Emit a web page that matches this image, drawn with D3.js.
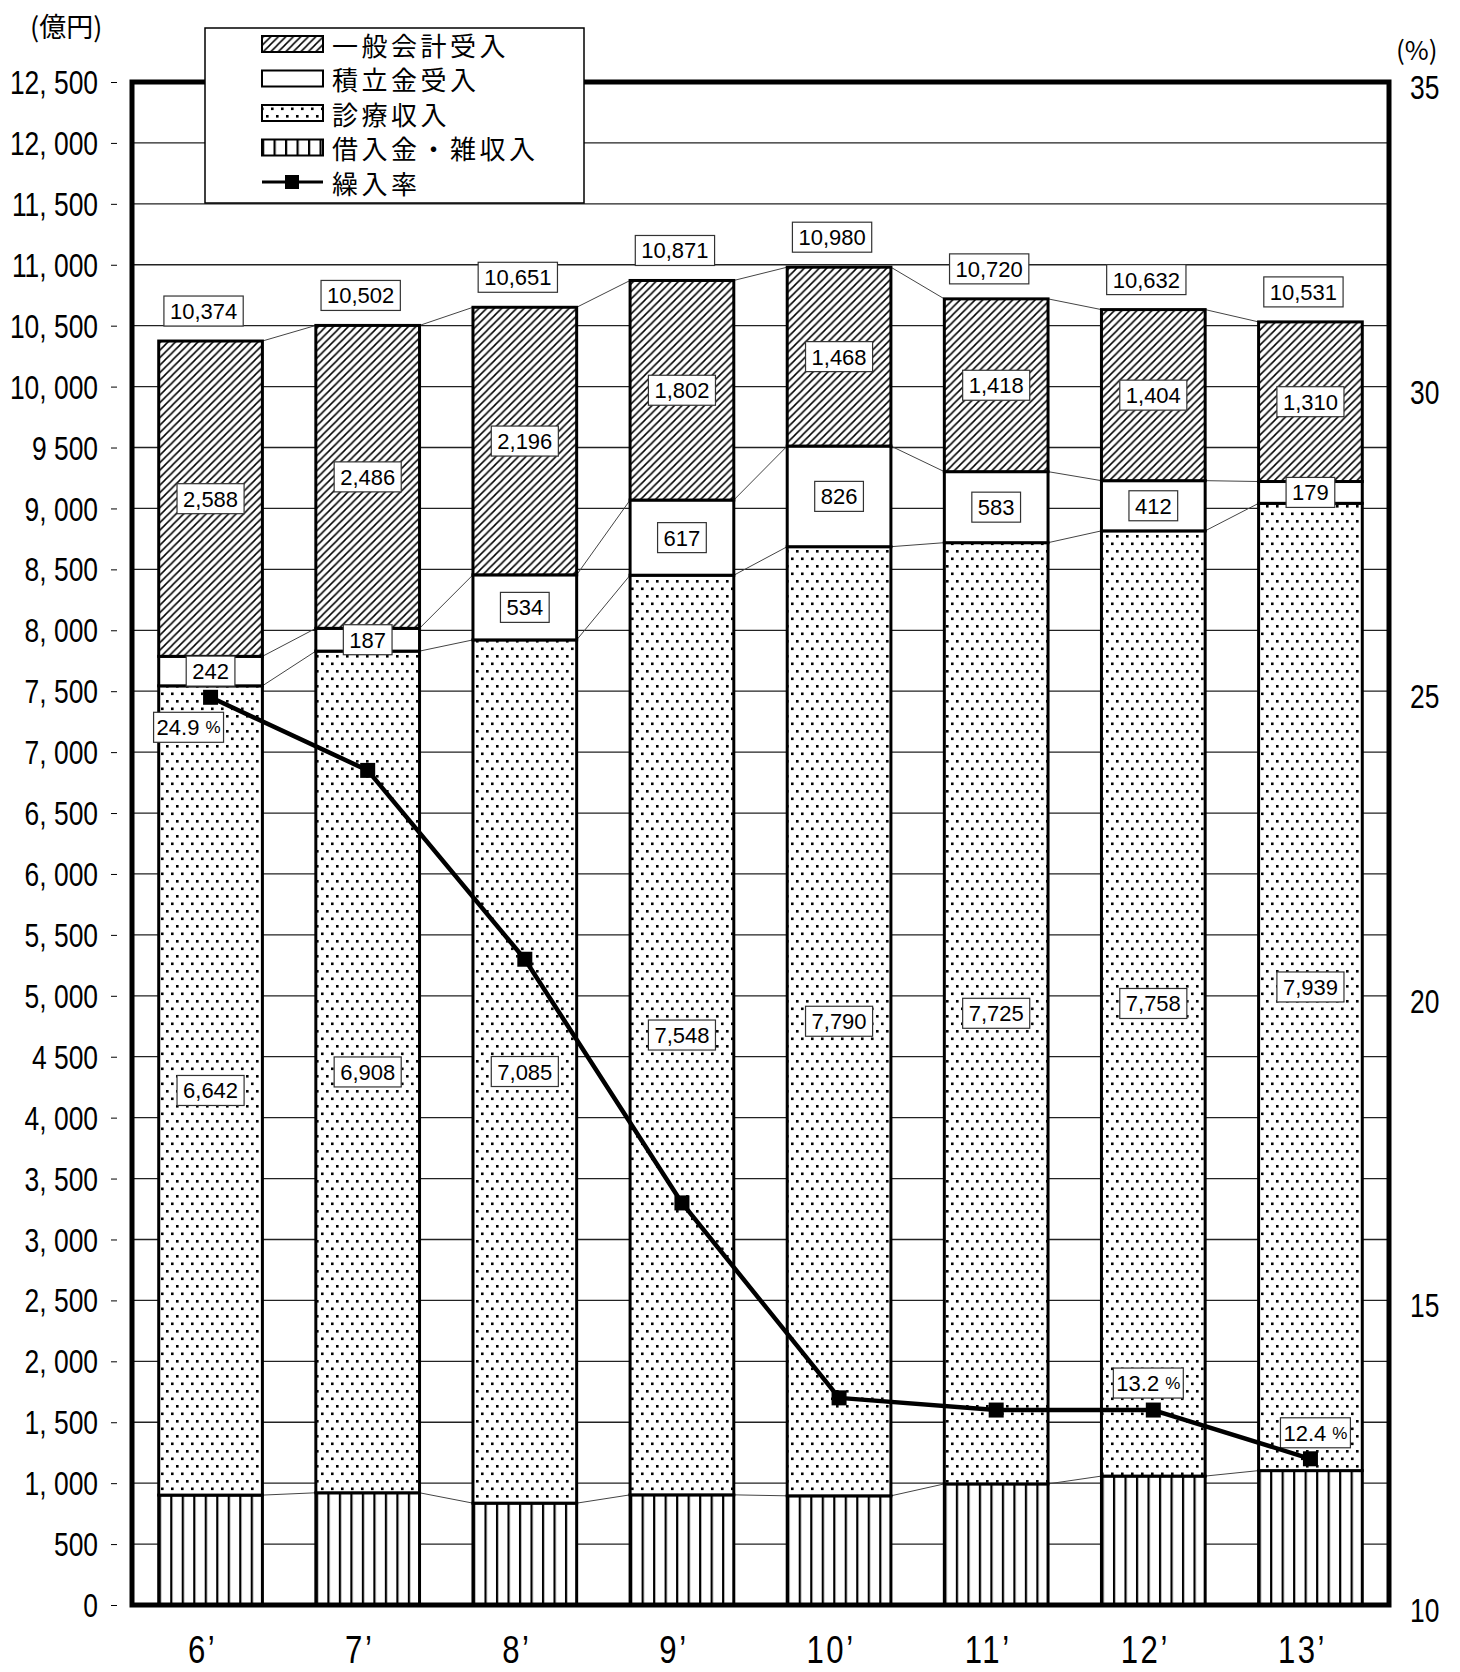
<!DOCTYPE html>
<html><head><meta charset="utf-8">
<script src="https://cdn.jsdelivr.net/npm/d3@7"></script>
<style>body{margin:0;background:#fff;} svg{display:block}</style>
</head><body>
<script>
// ---- data ----
const years = ["6’", "7’", "8’", "9’", "10’", "11’", "12’", "13’"];
const general = [2588, 2486, 2196, 1802, 1468, 1418, 1404, 1310];   // 一般会計受入
const reserve = [242, 187, 534, 617, 826, 583, 412, 179];           // 積立金受入
const medical = [6642, 6908, 7085, 7548, 7790, 7725, 7758, 7939];   // 診療収入
const misc    = [902, 921, 836, 904, 896, 994, 1058, 1103];         // 借入金・雑収入
const totals  = [10374, 10502, 10651, 10871, 10980, 10720, 10632, 10531];
const rate    = [24.9, 23.7, 20.6, 16.6, 13.4, 13.2, 13.2, 12.4];   // 繰入率 (%)
const rateLabelIdx = [0, 6, 7];
const leftTicks = [0,500,1000,1500,2000,2500,3000,3500,4000,4500,5000,5500,6000,6500,7000,7500,8000,8500,9000,9500,10000,10500,11000,11500,12000,12500];
const leftTickLabels = ["0","500","1, 000","1, 500","2, 000","2, 500","3, 000","3, 500","4, 000","4 500","5, 000","5, 500","6, 000","6, 500","7, 000","7, 500","8, 000","8, 500","9, 000","9 500","10, 000","10, 500","11, 000","11, 500","12, 000","12, 500"];
const rightTicks = [10, 15, 20, 25, 30, 35];
const seriesNames = ["一般会計受入", "積立金受入", "診療収入", "借入金・雑収入", "繰入率"];
const leftUnit = "(億円)";
const rightUnit = "(%)";

// ---- layout ----
const W = 1460, H = 1672;
const L = 132, R = 1389, T = 82, B = 1605;
const numFont = "'Liberation Sans', Arial, sans-serif";
const jpFont = "'Noto Sans CJK JP', 'Noto Sans', sans-serif";

const svg = d3.select("body").append("svg").attr("width", W).attr("height", H)
  .style("font-family", numFont);
svg.append("rect").attr("width", W).attr("height", H).attr("fill", "#fff");

const x = d3.scaleBand().domain(years).range([L, R]).paddingInner(0.34).paddingOuter(0.17);
const y = d3.scaleLinear().domain([0, 12500]).range([B, T]);
const yR = d3.scaleLinear().domain([10, 35]).range([B, T]);
const bw = x.bandwidth();
const cx = i => x(years[i]) + bw / 2;

const rows = years.map((yr, i) => ({ year: yr, misc: misc[i], medical: medical[i], reserve: reserve[i], general: general[i] }));
const stack = d3.stack().keys(["misc", "medical", "reserve", "general"])(rows);

// ---- patterns ----
const defs = svg.append("defs");
const ph = defs.append("pattern").attr("id", "hatch").attr("patternUnits", "userSpaceOnUse")
  .attr("width", 7.5).attr("height", 7.5);
ph.append("rect").attr("width", 7.5).attr("height", 7.5).attr("fill", "#fff");
ph.append("path").attr("d", "M-1,8.5 L8.5,-1 M-2,2 L2,-2 M5.5,9.5 L9.5,5.5")
  .attr("stroke", "#000").attr("stroke-width", 1.5);

const pd = defs.append("pattern").attr("id", "dots").attr("patternUnits", "userSpaceOnUse")
  .attr("width", 10).attr("height", 15);
pd.append("rect").attr("width", 10).attr("height", 15).attr("fill", "#fff");
pd.append("rect").attr("x", 1).attr("y", 2.5).attr("width", 2.6).attr("height", 2.6).attr("fill", "#000");
pd.append("rect").attr("x", 6).attr("y", 10).attr("width", 2.6).attr("height", 2.6).attr("fill", "#000");

function vlinePattern(id, x0) {
  const p = defs.append("pattern").attr("id", id).attr("patternUnits", "userSpaceOnUse")
    .attr("x", x0).attr("width", 11.5).attr("height", 10);
  p.append("rect").attr("width", 11.5).attr("height", 10).attr("fill", "#fff");
  p.append("rect").attr("x", 0).attr("width", 2.2).attr("height", 10).attr("fill", "#000");
}
years.forEach((yr, i) => vlinePattern("vl" + i, x(yr)));
vlinePattern("vlLegend", 262);

// ---- gridlines ----
svg.append("g").selectAll("line").data(leftTicks.filter(v => v > 0 && v < 12500)).join("line")
  .attr("x1", L).attr("x2", R).attr("y1", d => y(d)).attr("y2", d => y(d))
  .attr("stroke", "#222").attr("stroke-width", 1.3);

// ---- connector lines between bars ----
const conn = svg.append("g").attr("stroke", "#444").attr("stroke-width", 1).attr("fill", "none");
stack.forEach(layer => {
  for (let i = 0; i < years.length - 1; i++) {
    conn.append("line")
      .attr("x1", x(years[i]) + bw).attr("y1", y(layer[i][1]))
      .attr("x2", x(years[i + 1])).attr("y2", y(layer[i + 1][1]));
  }
});

// ---- bars ----
const fills = { misc: i => `url(#vl${i})`, medical: () => "url(#dots)", reserve: () => "#fff", general: () => "url(#hatch)" };
stack.forEach(layer => {
  svg.append("g").selectAll("rect").data(layer).join("rect")
    .attr("x", (d, i) => x(years[i])).attr("y", d => y(d[1]))
    .attr("width", bw).attr("height", d => y(d[0]) - y(d[1]))
    .attr("fill", (d, i) => fills[layer.key](i))
    .attr("stroke", "#000").attr("stroke-width", 3);
});

// ---- plot border ----
svg.append("rect").attr("x", L).attr("y", T).attr("width", R - L).attr("height", B - T)
  .attr("fill", "none").attr("stroke", "#000").attr("stroke-width", 5);

// ---- value labels ----
const fmt = d3.format(",");
const labG = svg.append("g");
function boxLabel(cxp, cyp, text, pct) {
  const g = labG.append("g");
  const r = g.append("rect");
  const t = g.append("text").attr("x", cxp).attr("y", cyp).attr("text-anchor", "middle")
    .attr("dominant-baseline", "central").attr("font-size", 22).attr("fill", "#000");
  t.append("tspan").text(text);
  if (pct) t.append("tspan").attr("font-size", 17).attr("dx", 6).text("%");
  const w = t.node().getComputedTextLength() + 12;
  r.attr("x", cxp - w / 2).attr("y", cyp - 15).attr("width", w).attr("height", 30)
    .attr("fill", "#fff").attr("stroke", "#333").attr("stroke-width", 1.2);
}
["medical", "reserve", "general"].forEach(key => {
  const layer = stack.find(s => s.key === key);
  layer.forEach((d, i) => boxLabel(cx(i), (y(d[0]) + y(d[1])) / 2, fmt(d.data[key])));
});
totals.forEach((v, i) => boxLabel(cx(i) - 7, y(v) - 30, fmt(v)));

// ---- rate line ----
const line = d3.line().x((d, i) => cx(i)).y(d => yR(d));
svg.append("path").datum(rate).attr("d", line).attr("fill", "none")
  .attr("stroke", "#000").attr("stroke-width", 4.5).attr("stroke-linejoin", "round");
svg.append("g").selectAll("rect").data(rate).join("rect")
  .attr("x", (d, i) => cx(i) - 7.5).attr("y", d => yR(d) - 7.5).attr("width", 15).attr("height", 15).attr("fill", "#000");
const rateOff = { 0: [-22, 30], 6: [-5, -27], 7: [5, -26] };
rateLabelIdx.forEach(i => boxLabel(cx(i) + rateOff[i][0], yR(rate[i]) + rateOff[i][1], rate[i].toFixed(1), true));

// ---- axes ----
const gy = svg.append("g").attr("transform", `translate(${L},0)`)
  .call(d3.axisLeft(y).tickValues(leftTicks).tickFormat((d, i) => leftTickLabels[i]).tickSize(0).tickPadding(0));
gy.select(".domain").remove();
gy.selectAll(".tick text").attr("x", 0).attr("dy", null).attr("dominant-baseline", "central")
  .attr("transform", "translate(-34,0) scale(0.8,1)").attr("font-size", 33)
  .attr("font-family", numFont).attr("fill", "#000");
gy.selectAll(".tick").append("line").attr("x1", -21).attr("x2", -15).attr("stroke", "#000").attr("stroke-width", 1);

const gr = svg.append("g").attr("transform", `translate(${R},0)`)
  .call(d3.axisRight(yR).tickValues(rightTicks).tickSize(0).tickPadding(0));
gr.select(".domain").remove();
gr.selectAll(".tick text").attr("x", 0).attr("dy", null).attr("dominant-baseline", "central")
  .attr("transform", "translate(21,5) scale(0.8,1)").attr("font-size", 33)
  .attr("font-family", numFont).attr("fill", "#000");

const gx = svg.append("g").attr("transform", `translate(0,${B})`)
  .call(d3.axisBottom(x).tickSize(0).tickPadding(0));
gx.select(".domain").remove();
gx.selectAll(".tick text").attr("y", 0).attr("dy", null)
  .attr("transform", "translate(-8,58) scale(0.82,1)").attr("font-size", 38)
  .attr("letter-spacing", 3).attr("font-family", numFont).attr("fill", "#000");

svg.append("text").attr("x", 30).attr("y", 25).attr("dominant-baseline", "central")
  .attr("font-family", jpFont).attr("font-size", 27).text(leftUnit);
svg.append("text").attr("x", 1396).attr("y", 48).attr("dominant-baseline", "central")
  .attr("font-family", jpFont).attr("font-size", 26).text(rightUnit);

// ---- legend ----
const lg = svg.append("g");
lg.append("rect").attr("x", 205).attr("y", 28).attr("width", 379).attr("height", 175)
  .attr("fill", "#fff").attr("stroke", "#000").attr("stroke-width", 1.5);
const legRows = [44, 78.5, 113, 147.5, 182];
const legFills = ["url(#hatch)", "#fff", "url(#dots)", "url(#vlLegend)"];
seriesNames.forEach((name, i) => {
  const yc = legRows[i];
  if (i < 4) {
    lg.append("rect").attr("x", 262).attr("y", yc - 8).attr("width", 61).attr("height", 16)
      .attr("fill", legFills[i]).attr("stroke", "#000").attr("stroke-width", 2);
  } else {
    lg.append("line").attr("x1", 262).attr("x2", 323).attr("y1", yc).attr("y2", yc)
      .attr("stroke", "#000").attr("stroke-width", 3);
    lg.append("rect").attr("x", 285).attr("y", yc - 7).attr("width", 14).attr("height", 14).attr("fill", "#000");
  }
  lg.append("text").attr("x", 332).attr("y", yc).attr("dominant-baseline", "central")
    .attr("font-family", jpFont).attr("font-size", 26).attr("letter-spacing", 3.5).text(name);
});
</script>
</body></html>
